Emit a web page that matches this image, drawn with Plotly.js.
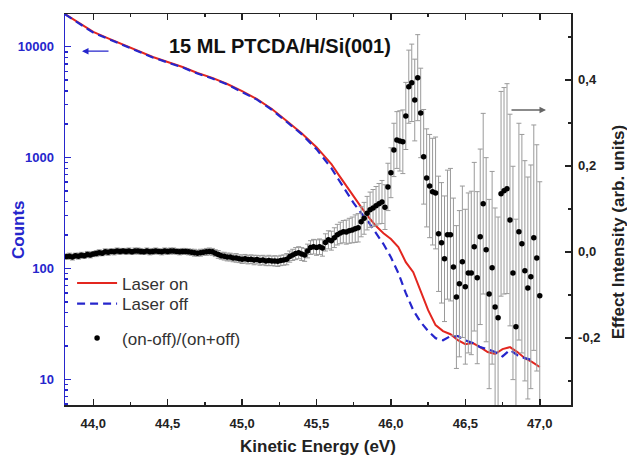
<!DOCTYPE html>
<html>
<head>
<meta charset="utf-8">
<script src="https://cdn.plot.ly/plotly-3.0.1.min.js"></script>
<style>html,body{margin:0;padding:0;background:#fff;}#chart{width:627px;height:456px;}</style>
</head>
<body>
<div id="chart"></div>
<script>
// ---- Data ----
const energyLaser = [43.81,43.85,43.90,43.95,44.00,44.10,44.20,44.30,44.40,44.50,44.60,44.70,44.80,44.90,45.00,45.10,45.20,45.30,45.40,45.50,45.55,45.60,45.65,45.70,45.75,45.80,45.85,45.90,45.95,46.00,46.05,46.10,46.15,46.20,46.25,46.30,46.35,46.40,46.45,46.50,46.55,46.60,46.65,46.70,46.75,46.80,46.85,46.90,46.95,47.00];
const countsLaserOn = [19700,18200,16400,14900,13600,11900,10400,9140,8070,7280,6560,5790,5230,4610,3980,3370,2740,2140,1660,1240,1050,874,695,553,449,357,290,241,208,184,156,114,92.5,62.4,42.0,30.8,27.2,25.5,22.5,20.7,21.2,19.5,17.6,16.9,18.7,19.5,17.6,15.5,14.3,12.9];
const countsLaserOff = [19600,18000,16200,14800,13400,11800,10300,9050,8000,7200,6500,5730,5170,4560,3930,3330,2700,2100,1630,1190,989,803,627,489,388,316,262,208,166,126,90.6,59.8,42.0,32.8,27.2,23.5,22.5,24.5,24.5,22.5,21.2,19.5,18.7,17.6,16.1,18.4,16.5,15.5,14.9,null];

const effectEnergy = [
43.82,43.84,43.86,43.88,43.90, 43.92,43.94,43.96,43.98,44.00,
44.02,44.04,44.06,44.08,44.10, 44.12,44.14,44.16,44.18,44.20,
44.22,44.24,44.26,44.28,44.30, 44.32,44.34,44.36,44.38,44.40,
44.42,44.44,44.46,44.48,44.50, 44.52,44.54,44.56,44.58,44.60,
44.62,44.64,44.66,44.68,44.70, 44.72,44.74,44.76,44.78,44.80,
44.82,44.84,44.86,44.88,44.90, 44.92,44.94,44.96,44.98,45.00,
45.02,45.04,45.06,45.08,45.10, 45.12,45.14,45.16,45.18,45.20,
45.22,45.24,45.26,45.28,45.30, 45.32,45.34,45.36,45.38,45.40,
45.42,45.44,45.46,45.48,45.50, 45.52,45.54,45.56,45.58,45.60,
45.62,45.64,45.66,45.68,45.70, 45.72,45.74,45.76,45.78,45.80,
45.82,45.84,45.86,45.88,45.90, 45.92,45.94,45.96,45.98,46.00,
46.02,46.04,46.06,46.08,46.10, 46.12,46.14,46.16,46.18,46.20,
46.22,46.24,46.26,46.28,46.30, 46.32,46.34,46.36,46.38,46.40,
46.42,46.44,46.46,46.48,46.50, 46.52,46.54,46.56,46.58,46.60,
46.62,46.64,46.66,46.68,46.70, 46.72,46.74,46.76,46.78,46.80,
46.82,46.84,46.86,46.88,46.90, 46.92,46.94,46.96,46.98,47.00];
const effectValue = [
-0.011,-0.010,-0.012,-0.009,-0.010, -0.008,-0.009,-0.006,-0.007,-0.005,
-0.004,-0.002,-0.003,0.000,-0.001, 0.001,0.000,0.002,0.001,0.002,
0.001,0.002,0.000,0.002,0.002, 0.001,0.000,0.002,0.000,0.001,
0.002,0.001,0.000,0.002,0.001, 0.002,0.002,0.001,0.000,0.001,
0.001,0.000,-0.001,-0.002,-0.003, -0.002,-0.001,0.000,0.001,0.000,
-0.003,-0.006,-0.009,-0.010,-0.012, -0.012,-0.014,-0.014,-0.016,-0.017,
-0.016,-0.018,-0.017,-0.019,-0.018, -0.020,-0.019,-0.021,-0.020,-0.021,
-0.021,-0.022,-0.020,-0.019,-0.017, -0.011,-0.007,-0.004,-0.002,-0.005,
-0.007,0.002,0.010,0.012,0.010, 0.012,0.009,0.022,0.028,0.026,
0.033,0.040,0.044,0.047,0.046, 0.049,0.051,0.054,0.056,0.070,
0.078,0.090,0.098,0.102,0.107, 0.112,0.116,0.104,0.151,0.184,
0.237,0.260,0.258,0.256,0.316, 0.384,0.393,0.353,0.405,0.323,
0.221,0.172,0.153,0.140,0.137, 0.042,0.021,-0.016,0.040,0.040,
-0.035,-0.105,-0.074,-0.023,-0.081, -0.049,-0.049,0.012,-0.060,0.035,
0.112,0.005,-0.098,-0.037,-0.128, -0.153,0.135,0.142,0.147,0.074,
-0.049,-0.174,0.047,0.019,-0.044, -0.084,-0.058,0.033,-0.014,-0.102];
const effectError = [
0.006,0.007,0.007,0.006,0.007, 0.007,0.006,0.007,0.007,0.006,
0.007,0.007,0.006,0.007,0.007, 0.006,0.007,0.007,0.007,0.006,
0.007,0.007,0.006,0.007,0.007, 0.007,0.006,0.007,0.007,0.007,
0.007,0.006,0.007,0.007,0.007, 0.007,0.007,0.006,0.007,0.007,
0.007,0.007,0.007,0.008,0.007, 0.008,0.007,0.008,0.008,0.008,
0.008,0.009,0.008,0.009,0.009, 0.009,0.009,0.010,0.009,0.010,
0.010,0.010,0.010,0.011,0.010, 0.011,0.011,0.011,0.012,0.011,
0.012,0.012,0.012,0.012,0.013, 0.013,0.013,0.014,0.014,0.015,
0.015,0.016,0.016,0.017,0.018, 0.018,0.019,0.020,0.021,0.022,
0.023,0.024,0.025,0.026,0.028, 0.029,0.030,0.032,0.033,0.035,
0.037,0.039,0.041,0.043,0.045, 0.047,0.050,0.052,0.055,0.058,
0.062,0.066,0.070,0.074,0.078, 0.085,0.090,0.095,0.100,0.104,
0.110,0.114,0.120,0.124,0.130, 0.134,0.140,0.146,0.150,0.154,
0.160,0.166,0.170,0.176,0.180, 0.186,0.190,0.196,0.200,0.204,
0.210,0.214,0.220,0.224,0.230, 0.234,0.238,0.240,0.244,0.246,
0.248,0.250,0.252,0.254,0.256, 0.258,0.260,0.262,0.263,0.265];

const xTickVals = [44.0,44.5,45.0,45.5,46.0,46.5,47.0];
const xTickText = ['44,0','44,5','45,0','45,5','46,0','46,5','47,0'];
const xMinorVals = [43.75,44.25,44.75,45.25,45.75,46.25,46.75,47.25];
const countTickVals = [10,100,1000,10000];
const countTickText = ['10','100','1000','10000'];
const countMinorVals = [6,7,8,9,20,30,40,50,60,70,80,90,200,300,400,500,600,700,800,900,2000,3000,4000,5000,6000,7000,8000,9000];
const effTickVals = [-0.2,0.0,0.2,0.4];
const effTickText = ['-0,2','0,0','0,2','0,4'];
const effMinorVals = [-0.3,-0.1,0.1,0.3,0.5];

const BLUE = '#2626cc';
const RED = '#e3261f';
const INK = '#222222';
const FONT = 'Liberation Sans, Arial, Helvetica, sans-serif';

const traces = [
  {x: energyLaser, y: countsLaserOn, type:'scatter', mode:'lines', name:'Laser on',
   line:{color:RED, width:2}, legend:'legend', yaxis:'y'},
  {x: energyLaser, y: countsLaserOff, type:'scatter', mode:'lines', name:'Laser off',
   line:{color:BLUE, width:2.2, dash:'8px,5px'}, legend:'legend2', yaxis:'y'},
  {x: effectEnergy, y: effectValue, type:'scatter', mode:'markers', name:'(on-off)/(on+off)',
   marker:{color:'#000', size:5.5}, legend:'legend3', yaxis:'y2',
   error_y:{type:'data', array: effectError, visible:true, color:'#9a9a9a', thickness:1, width:2.5}}
];

function legendAt(y) {
  return {x:0.014, y:y, xanchor:'left', yanchor:'top', bgcolor:'rgba(0,0,0,0)', itemwidth:40,
          font:{size:17, color:'#333', family:FONT}};
}

const layout = {
  width:627, height:456,
  margin:{l:65, r:56, t:14, b:51, pad:0},
  paper_bgcolor:'#fff', plot_bgcolor:'#fff',
  font:{family:FONT, color:INK},
  showlegend:true,
  legend:legendAt(0.357),
  legend2:legendAt(0.304),
  legend3:legendAt(0.216),
  xaxis:{range:[43.81,47.21], tickmode:'array', tickvals:xTickVals, ticktext:xTickText,
         ticks:'inside', ticklen:6, tickwidth:1.5, tickcolor:INK, showline:true, linecolor:INK,
         linewidth:1.5, mirror:'ticks', showgrid:false, zeroline:false, ticklabelstandoff:6,
         tickfont:{size:13, weight:'bold', color:INK, family:FONT},
         minor:{tickmode:'array', tickvals:xMinorVals, ticks:'inside', ticklen:3, tickcolor:INK, showgrid:false}},
  yaxis:{type:'log', range:[0.768,4.295], tickmode:'array', tickvals:countTickVals, ticktext:countTickText,
         ticks:'inside', ticklen:6, tickwidth:1.5, tickcolor:BLUE, showline:true, linecolor:BLUE,
         linewidth:1.5, showgrid:false, zeroline:false, ticklabelstandoff:7,
         tickfont:{size:13, weight:'bold', color:BLUE, family:FONT},
         minor:{tickmode:'array', tickvals:countMinorVals, ticks:'inside', ticklen:3, tickcolor:BLUE, showgrid:false}},
  yaxis2:{overlaying:'y', side:'right', range:[-0.356,0.553], tickmode:'array', tickvals:effTickVals, ticktext:effTickText,
         ticks:'inside', ticklen:6, tickwidth:1.5, tickcolor:INK, showline:true, linecolor:INK,
         linewidth:1.5, showgrid:false, zeroline:false, ticklabelstandoff:3,
         tickfont:{size:13, weight:'bold', color:INK, family:FONT},
         minor:{tickmode:'array', tickvals:effMinorVals, ticks:'inside', ticklen:3, tickcolor:INK, showgrid:false}},
  annotations:[
    {text:'15 ML PTCDA/H/Si(001)', xref:'paper', yref:'paper', x:0.425, y:0.918, xanchor:'center', yanchor:'middle',
     showarrow:false, font:{size:20, weight:'bold', color:'#111', family:FONT}},
    {text:'Kinetic Energy (eV)', xref:'paper', yref:'paper', x:0.5, y:-0.106, xanchor:'center', yanchor:'middle',
     showarrow:false, font:{size:17, weight:'bold', color:INK, family:FONT}},
    {text:'Counts', xref:'paper', yref:'paper', x:-0.093, y:0.45, xanchor:'center', yanchor:'middle',
     textangle:-90, showarrow:false, font:{size:17, weight:'bold', color:BLUE, family:FONT}},
    {text:'Effect Intensity (arb. units)', xref:'paper', yref:'paper', x:1.093, y:0.442, xanchor:'center', yanchor:'middle',
     textangle:-90, showarrow:false, font:{size:17, weight:'bold', color:INK, family:FONT}},
    {text:'', xref:'paper', yref:'paper', x:0.0336, y:0.905, ax:28, ay:0, showarrow:true,
     arrowhead:2, arrowsize:1, arrowwidth:1.3, arrowcolor:BLUE},
    {text:'', xref:'paper', yref:'paper', x:0.9506, y:0.7545, ax:-36, ay:0, showarrow:true,
     arrowhead:2, arrowsize:1, arrowwidth:1.3, arrowcolor:'#666'}
  ]
};

Plotly.newPlot('chart', traces, layout, {displayModeBar:false, staticPlot:true});
</script>
</body>
</html>
